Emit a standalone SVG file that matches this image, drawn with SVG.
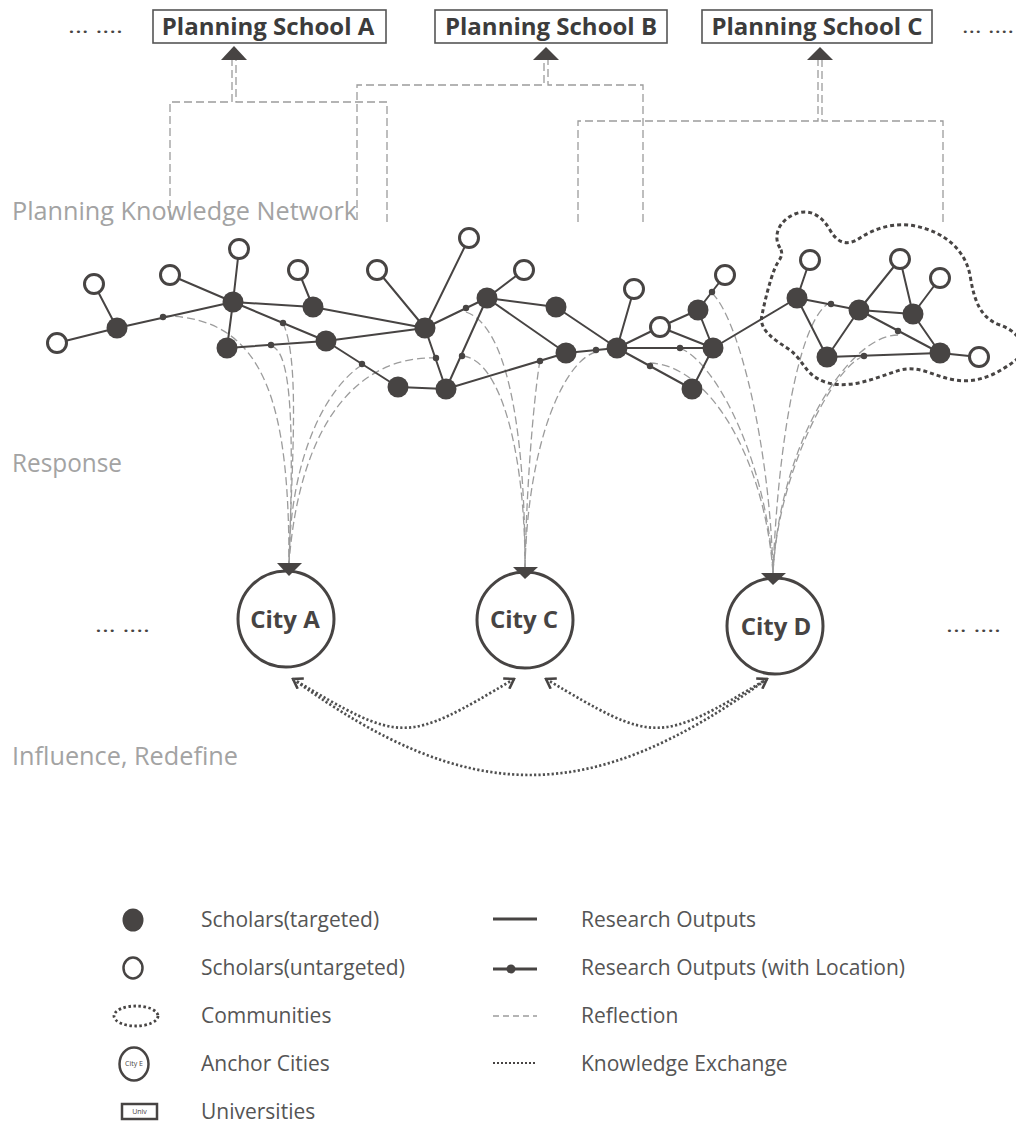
<svg xmlns="http://www.w3.org/2000/svg" width="1016" height="1127" viewBox="0 0 1016 1127">
<defs>
<style>
.edge{stroke:#474443;stroke-width:2;fill:none}
.f{fill:#474443}
.o{fill:#fff;stroke:#474443;stroke-width:3}
.dot{fill:#474443}
.link{stroke:#9c9c9c;stroke-width:1.3;fill:none;stroke-dasharray:8 4}
.refl{stroke:#9c9c9c;stroke-width:1.3;fill:none;stroke-dasharray:8 4}
.kx{stroke:#505050;stroke-width:2.7;fill:none;stroke-dasharray:2.2 2.2}
.box{fill:#fff;stroke:#555;stroke-width:1.6}
.btxt{font-family:"Open Sans","Liberation Sans",sans-serif;font-weight:700;font-size:24px;fill:#3c3c3c;text-anchor:middle}
.lbl{font-family:"Open Sans","Liberation Sans",sans-serif;font-size:25px;fill:#a3a3a3}
.city{fill:#fff;stroke:#474443;stroke-width:3}
.ctxt{font-family:"Open Sans","Liberation Sans",sans-serif;font-weight:700;font-size:24px;fill:#474443;text-anchor:middle}
.leg{font-family:"Open Sans","Liberation Sans",sans-serif;font-size:21px;fill:#555}
.ell{font-family:"Open Sans","Liberation Sans",sans-serif;font-size:20px;fill:#474443}
.tri{fill:#474443}
.comm{fill:none;stroke:#474443;stroke-width:3;stroke-dasharray:4 3}
.tiny{font-family:"Open Sans","Liberation Sans",sans-serif;font-size:7px;fill:#474443;text-anchor:middle}
</style>
<marker id="chev" viewBox="0 0 14 14" refX="12" refY="7" markerWidth="14" markerHeight="14" markerUnits="userSpaceOnUse" orient="auto-start-reverse">
<path d="M3,1 L12,7 L3,13" fill="none" stroke="#474443" stroke-width="2.6"/>
</marker>
</defs>
<rect width="1016" height="1127" fill="#fff"/>

<!-- side labels -->
<text class="lbl" x="12" y="220" textLength="345" lengthAdjust="spacingAndGlyphs">Planning Knowledge Network</text>
<text class="lbl" x="12" y="472" textLength="110" lengthAdjust="spacingAndGlyphs">Response</text>
<text class="lbl" x="12" y="765" textLength="226" lengthAdjust="spacingAndGlyphs">Influence, Redefine</text>
<text class="ell" x="68" y="33" textLength="55" lengthAdjust="spacingAndGlyphs">... ....</text>
<text class="ell" x="962" y="33" textLength="52" lengthAdjust="spacingAndGlyphs">... ....</text>
<text class="ell" x="95" y="632" textLength="55" lengthAdjust="spacingAndGlyphs">... ....</text>
<text class="ell" x="946" y="632" textLength="55" lengthAdjust="spacingAndGlyphs">... ....</text>

<g id="connectors">
<!-- school links -->
<path class="link" d="M170,220 V102 H232 V60"/>
<path class="link" d="M387,222 V102 H236 V60"/>
<path class="link" d="M357,220 V85 H544 V60"/>
<path class="link" d="M643,222 V85 H548 V60"/>
<path class="link" d="M578,222 V121 H818 V60"/>
<path class="link" d="M943,222 V121 H822 V60"/>
<!-- reflection to City A -->
<path class="refl" d="M163,316 C268,316 289,410 289,563"/>
<path class="refl" d="M283,323 C300,360 292,460 289,563"/>
<path class="refl" d="M271,346 C292,350 294,430 289,563"/>
<path class="refl" d="M362,365 C330,385 290,450 289,563"/>
<path class="refl" d="M437,358 C360,355 300,420 289,563"/>
<!-- reflection to City C -->
<path class="refl" d="M466,312 C505,325 525,420 525,567"/>
<path class="refl" d="M463,356 C500,360 525,450 525,567"/>
<path class="refl" d="M540,360 C535,390 527,470 525,567"/>
<path class="refl" d="M596,352 C565,360 528,440 525,567"/>
<!-- reflection to City D -->
<path class="refl" d="M712,293 C740,320 770,450 773,573"/>
<path class="refl" d="M680,348 C720,365 768,470 773,573"/>
<path class="refl" d="M650,363 C710,365 765,460 773,573"/>
<path class="refl" d="M831,302 C800,315 778,440 773,573"/>
<path class="refl" d="M898,335 C850,335 780,440 773,573"/>
<path class="refl" d="M864,356 C835,365 778,470 773,573"/>
<!-- research outputs -->
<path class="edge" d="M57,343 L117,328 M94,284 L117,328 M117,328 L233,302 M170,275 L233,302 M239,249 L233,302 M233,302 L313,307 M233,302 L227,348 M233,302 L326,341 M227,348 L326,341 M298,270 L313,307 M313,307 L425,328 M326,341 L425,328 M326,341 L398,387 M398,387 L446,389 M425,328 L446,389 M487,298 L446,389 M425,328 L487,298 M377,270 L425,328 M469,238 L425,328 M524,270 L487,298 M487,298 L556,307 M487,298 L566,353 M446,389 L566,353 M566,353 L617,348 M556,307 L617,348 M634,289 L617,348 M660,327 L617,348 M617,348 L713,348 M617,348 L692,389 M660,327 L698,310 M698,310 L725,275 M698,310 L713,348 M660,327 L713,348 M713,348 L692,389 M713,348 L797,298 M797,298 L810,260 M797,298 L859,310 M797,298 L827,357 M859,310 L827,357 M859,310 L900,259 M900,259 L913,314 M859,310 L913,314 M913,314 L940,278 M913,314 L940,353 M859,310 L940,353 M827,357 L940,353 M940,353 L979,357"/>
<circle class="dot" cx="163" cy="317" r="3.2"/>
<circle class="dot" cx="283" cy="323" r="3.2"/>
<circle class="dot" cx="271" cy="345" r="3.2"/>
<circle class="dot" cx="362" cy="364" r="3.2"/>
<circle class="dot" cx="436" cy="358" r="3.2"/>
<circle class="dot" cx="462" cy="356" r="3.2"/>
<circle class="dot" cx="466" cy="308" r="3.2"/>
<circle class="dot" cx="540" cy="361" r="3.2"/>
<circle class="dot" cx="596" cy="350" r="3.2"/>
<circle class="dot" cx="680" cy="348" r="3.2"/>
<circle class="dot" cx="650" cy="366" r="3.2"/>
<circle class="dot" cx="712" cy="292" r="3.2"/>
<circle class="dot" cx="831" cy="304" r="3.2"/>
<circle class="dot" cx="898" cy="331" r="3.2"/>
<circle class="dot" cx="864" cy="356" r="3.2"/>
<!-- knowledge exchange -->
<path class="kx" d="M293,679 C402,744 405,744 514,679" marker-start="url(#chev)" marker-end="url(#chev)"/>
<path class="kx" d="M546,679 C655,744 658,744 767,679" marker-start="url(#chev)" marker-end="url(#chev)"/>
<path class="kx" d="M293,679 C470,807 590,807 767,679"/>
</g>

<g id="community">
<path class="comm" d="M780,248 C772,235 780,220 795,214 C810,208 822,216 830,230 C838,244 848,246 860,238 C875,228 895,222 915,226 C945,232 965,250 970,275 C974,300 980,318 1000,325 C1020,332 1030,350 1016,360 C1000,372 980,384 955,380 C935,377 920,365 900,370 C875,378 850,390 825,382 C805,375 805,362 790,350 C775,340 758,330 762,315 C765,300 770,280 775,268 C778,260 785,256 780,248 Z"/>
</g>

<!-- planning schools -->
<g id="school-a"><rect class="box" x="153" y="10" width="233" height="33"/><text class="btxt" x="268" y="35">Planning School A</text><polygon class="tri" points="234,46 221,60 247,60"/></g>
<g id="school-b"><rect class="box" x="435" y="10" width="232" height="33"/><text class="btxt" x="551" y="35">Planning School B</text><polygon class="tri" points="546,47 533,60 559,60"/></g>
<g id="school-c"><rect class="box" x="702" y="10" width="230" height="33"/><text class="btxt" x="817" y="35">Planning School C</text><polygon class="tri" points="820,47 807,60 833,60"/></g>

<!-- scholars targeted -->
<g id="s-f1"><circle class="f" cx="117" cy="328" r="10.5"/></g>
<g id="s-f2"><circle class="f" cx="233" cy="302" r="10.5"/></g>
<g id="s-f3"><circle class="f" cx="313" cy="307" r="10.5"/></g>
<g id="s-f4"><circle class="f" cx="227" cy="348" r="10.5"/></g>
<g id="s-f5"><circle class="f" cx="326" cy="341" r="10.5"/></g>
<g id="s-f6"><circle class="f" cx="425" cy="328" r="10.5"/></g>
<g id="s-f7"><circle class="f" cx="487" cy="298" r="10.5"/></g>
<g id="s-f8"><circle class="f" cx="556" cy="307" r="10.5"/></g>
<g id="s-f9"><circle class="f" cx="398" cy="387" r="10.5"/></g>
<g id="s-f10"><circle class="f" cx="446" cy="389" r="10.5"/></g>
<g id="s-f11"><circle class="f" cx="566" cy="353" r="10.5"/></g>
<g id="s-f12"><circle class="f" cx="617" cy="348" r="10.5"/></g>
<g id="s-f13"><circle class="f" cx="698" cy="310" r="10.5"/></g>
<g id="s-f14"><circle class="f" cx="713" cy="348" r="10.5"/></g>
<g id="s-f15"><circle class="f" cx="692" cy="389" r="10.5"/></g>
<g id="s-f16"><circle class="f" cx="797" cy="298" r="10.5"/></g>
<g id="s-f17"><circle class="f" cx="859" cy="310" r="10.5"/></g>
<g id="s-f18"><circle class="f" cx="913" cy="314" r="10.5"/></g>
<g id="s-f19"><circle class="f" cx="827" cy="357" r="10.5"/></g>
<g id="s-f20"><circle class="f" cx="940" cy="353" r="10.5"/></g>
<!-- scholars untargeted -->
<g id="s-o1"><circle class="o" cx="57" cy="343" r="9.5"/></g>
<g id="s-o2"><circle class="o" cx="94" cy="284" r="9.5"/></g>
<g id="s-o3"><circle class="o" cx="170" cy="275" r="9.5"/></g>
<g id="s-o4"><circle class="o" cx="239" cy="249" r="9.5"/></g>
<g id="s-o5"><circle class="o" cx="298" cy="270" r="9.5"/></g>
<g id="s-o6"><circle class="o" cx="377" cy="270" r="9.5"/></g>
<g id="s-o7"><circle class="o" cx="469" cy="238" r="9.5"/></g>
<g id="s-o8"><circle class="o" cx="524" cy="270" r="9.5"/></g>
<g id="s-o9"><circle class="o" cx="634" cy="289" r="9.5"/></g>
<g id="s-o10"><circle class="o" cx="660" cy="327" r="9.5"/></g>
<g id="s-o11"><circle class="o" cx="725" cy="275" r="9.5"/></g>
<g id="s-o12"><circle class="o" cx="810" cy="260" r="9.5"/></g>
<g id="s-o13"><circle class="o" cx="900" cy="259" r="9.5"/></g>
<g id="s-o14"><circle class="o" cx="940" cy="278" r="9.5"/></g>
<g id="s-o15"><circle class="o" cx="979" cy="357" r="9.5"/></g>

<!-- cities -->
<g id="city-a"><circle class="city" cx="286" cy="619" r="48"/><text class="ctxt" x="285" y="628">City A</text><polygon class="tri" points="277,563 302,563 289,576"/></g>
<g id="city-c"><circle class="city" cx="525" cy="620" r="48"/><text class="ctxt" x="524" y="628">City C</text><polygon class="tri" points="513,567 538,567 525,579"/></g>
<g id="city-d"><circle class="city" cx="775" cy="626" r="48"/><text class="ctxt" x="776" y="635">City D</text><polygon class="tri" points="761,573 786,573 773,585"/></g>

<!-- legend -->
<g id="legend">
<ellipse class="f" cx="133" cy="920" rx="10.5" ry="11.5"/>
<ellipse class="o" cx="133" cy="968" rx="9.5" ry="10.5" style="stroke-width:2.5"/>
<ellipse cx="136" cy="1016" rx="22" ry="10" fill="none" stroke="#474443" stroke-width="2.8" stroke-dasharray="2.5 2.5"/>
<ellipse cx="134" cy="1064" rx="14.5" ry="16.5" fill="#fff" stroke="#474443" stroke-width="2.5"/>
<text class="tiny" x="134" y="1066">City E</text>
<rect x="122" y="1104" width="35" height="15" fill="#fff" stroke="#474443" stroke-width="2.5"/>
<text class="tiny" x="139.5" y="1114">Univ</text>
<text class="leg" x="201" y="927">Scholars(targeted)</text>
<text class="leg" x="201" y="975">Scholars(untargeted)</text>
<text class="leg" x="201" y="1023">Communities</text>
<text class="leg" x="201" y="1071">Anchor Cities</text>
<text class="leg" x="201" y="1119">Universities</text>
<path d="M493,919 H537" stroke="#474443" stroke-width="3"/>
<path d="M493,969 H537" stroke="#474443" stroke-width="3"/>
<circle class="dot" cx="511" cy="969" r="4.5"/>
<path d="M493,1016 H537" stroke="#9c9c9c" stroke-width="1.3" stroke-dasharray="6 4"/>
<path d="M493,1063 H537" stroke="#474443" stroke-width="2" stroke-dasharray="2 2"/>
<text class="leg" x="581" y="927">Research Outputs</text>
<text class="leg" x="581" y="975">Research Outputs (with Location)</text>
<text class="leg" x="581" y="1023">Reflection</text>
<text class="leg" x="581" y="1071">Knowledge Exchange</text>
</g>
</svg>
